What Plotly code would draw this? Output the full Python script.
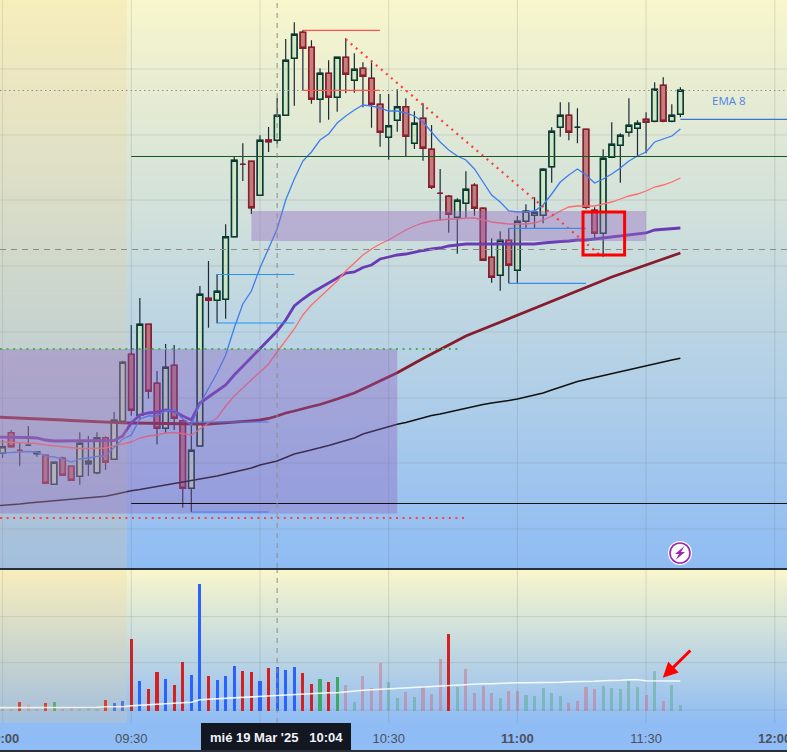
import pandas as pd
import plotly.graph_objects as go
from plotly.subplots import make_subplots

# 2 minute bars, 19 Mar 2025
bar_times = pd.date_range("2025-03-19 09:00", periods=80, freq="2min").strftime("%Y-%m-%d %H:%M:%S").tolist()
# the moving averages start one bar earlier, off the left edge
line_times = ["2025-03-19 08:58:00"] + bar_times

opens = [114.7, 135.3, 117.7, 122.7, 114.3, 112.7, 83.7, 109.7, 101.7, 91.7,
         104.3, 95.3, 130.3, 108.7, 146.7, 213.7, 152.7, 243.7, 184.7, 139.7,
         202.7, 147.3, 79.7, 122.0, 269.7, 267.7, 268.7, 331.3, 403.7, 406.7,
         372.7, 428.0, 427.7, 452.7, 509.7, 535.7, 520.7, 468.7, 494.7, 470.7,
         510.7, 487.7, 499.7, 489.7, 463.7, 430.7, 447.7, 461.3, 424.7, 449.7,
         418.7, 374.7, 371.7, 350.7, 364.7, 382.7, 359.7, 310.7, 292.7, 327.7,
         297.7, 346.7, 352.7, 352.7, 401.3, 440.7, 452.7, 440.7, 438.7, 357.7,
         334.7, 410.7, 422.7, 435.7, 439.7, 448.7, 446.7, 482.7, 446.7, 453.7]
closes = [121.3, 121.3, 117.7, 122.7, 116.3, 84.7, 105.7, 92.7, 87.7, 124.7,
          106.7, 130.3, 105.7, 147.7, 205.7, 157.7, 243.7, 176.7, 139.7, 200.7,
          149.7, 79.7, 117.7, 273.7, 267.7, 276.7, 331.3, 407.7, 403.7, 360.3,
          427.7, 426.3, 452.7, 507.7, 533.7, 519.7, 468.7, 494.7, 470.7, 510.7,
          493.7, 498.7, 491.7, 463.7, 435.7, 442.3, 461.3, 431.7, 444.7, 419.7,
          380.7, 374.7, 353.7, 367.7, 378.7, 359.7, 307.7, 290.7, 327.7, 302.7,
          346.7, 356.7, 355.7, 398.7, 436.7, 452.7, 435.7, 440.7, 360.7, 334.7,
          409.7, 423.7, 432.7, 442.7, 444.7, 445.7, 478.7, 446.7, 452.7, 477.7]
highs = [128.0, 138.0, 125.0, 142.0, 116.3, 112.7, 105.7, 111.3, 101.7, 135.7,
         132.0, 135.7, 131.7, 156.0, 207.3, 243.0, 270.0, 243.7, 197.0, 224.0,
         223.0, 147.3, 145.3, 282.0, 307.0, 293.7, 343.7, 412.0, 424.7, 406.7,
         432.7, 441.0, 470.0, 529.0, 545.7, 538.0, 527.7, 499.7, 507.7, 510.7,
         529.7, 514.7, 505.7, 505.7, 474.0, 474.0, 478.7, 469.7, 456.7, 464.7,
         443.0, 399.0, 373.0, 369.7, 396.7, 384.7, 360.7, 329.7, 336.7, 339.7,
         352.0, 363.7, 370.7, 399.7, 440.7, 465.7, 465.7, 459.7, 438.7, 360.7,
         418.7, 445.7, 434.7, 469.7, 447.7, 455.7, 485.7, 490.7, 463.7, 480.7]
lows = [110.0, 121.3, 102.3, 122.7, 111.3, 84.7, 83.7, 92.7, 87.7, 83.3,
        92.0, 93.7, 98.0, 108.7, 146.7, 152.3, 148.0, 169.3, 123.7, 135.3,
        138.0, 60.3, 56.0, 122.0, 240.3, 244.7, 249.3, 331.3, 387.0, 354.0,
        372.7, 416.0, 424.3, 452.7, 462.3, 477.7, 464.3, 445.3, 448.3, 456.3,
        474.7, 475.3, 460.7, 440.3, 421.3, 408.3, 436.3, 412.0, 419.0, 407.3,
        379.0, 347.3, 335.3, 314.3, 349.7, 352.3, 307.7, 285.3, 277.3, 284.7,
        284.7, 339.7, 339.7, 344.7, 385.3, 431.3, 427.7, 424.7, 358.7, 329.7,
        311.3, 410.7, 385.3, 431.3, 412.0, 414.7, 445.7, 445.7, 445.7, 450.7]

ema8 = [115, 115, 115.5, 116, 116.5, 116, 112, 111, 109, 106, 109,
        110, 111.5, 112, 121, 129, 133, 149, 152, 152, 157,
        158, 149, 143, 164, 179, 195, 213, 240, 264, 277,
        300, 320, 339, 368, 389, 407, 416, 428, 434, 445,
        452, 458, 463, 462, 460, 457, 457, 455, 452, 446,
        436, 426, 418, 412, 408, 399, 386, 373, 366, 357,
        356, 356, 357, 363, 374, 386, 393, 399, 393, 385,
        389, 394, 400, 407, 412, 416, 426, 429, 432, 439]
ema21 = [126.5, 126, 125.5, 125, 125, 124.5, 123, 122, 121, 120, 119.5,
         119.5, 120, 120, 122, 124, 126, 130, 132, 133, 135,
         135.5, 134, 133, 139, 145, 150, 162, 172, 180, 189,
         197, 204, 216, 227, 239, 253, 263, 271, 279, 287,
         297, 305, 313, 319, 324, 328, 333, 338, 342, 345,
         347, 348, 349, 349, 350, 350, 348, 346, 345, 344,
         344, 344, 345, 348, 352, 357, 361, 362, 362, 362,
         364, 366, 369, 372, 374, 377, 381, 383, 386, 390]
vwap = [131, 131, 131, 131, 130.5, 130, 128, 127, 127, 127, 127,
        127, 127, 127, 127.5, 132, 145, 153, 155, 156, 158,
        157, 152, 148, 165, 171, 177, 183, 193, 202, 211,
        219, 228, 237, 248, 262, 269, 275, 280, 285, 290,
        295, 296, 300.5, 303, 309, 311, 313, 314, 316, 317.5,
        319, 320, 322, 323, 324, 324, 324, 324, 324, 324,
        324, 324, 324, 325, 326, 326.5, 327, 328, 328, 329,
        330, 331, 332, 333, 334, 335, 338, 338.5, 339, 340]
ma100 = [151, 150.7, 150.4, 150, 149.7, 149.3, 149, 148.5, 148, 147.5, 147,
         146.7, 146.3, 145.8, 145.5, 145.2, 145, 144.8, 144.7, 144.6, 144.5,
         144.4, 144.2, 144, 144, 144, 144.5, 145, 145.5, 146, 147.2,
         148, 149.5, 152, 155, 157, 159.5, 161.5, 163.5, 166, 169,
         172, 175, 179, 183, 186.5, 191, 195.3, 200, 205, 209.5,
         214, 218.5, 223, 227, 232, 235.5, 239, 242.5, 246, 249.5,
         253, 256.5, 260, 263.5, 267, 270.3, 273.5, 277, 280.5, 284,
         287.5, 291, 294, 297, 300, 303, 306, 309, 312, 315]
ma200 = [62, 62.5, 63.3, 64, 65, 65.8, 66.6, 67.4, 68, 69, 69.7,
         70.5, 71, 71.8, 73.5, 75.5, 77.3, 78.5, 80, 81.5, 83,
         84, 85.5, 87, 88.5, 90.5, 92, 94, 96, 98, 100,
         103, 105, 107, 110.5, 114, 116, 118, 120, 122.5, 125,
         127.5, 130, 134, 136.5, 139, 141.5, 143.7, 145.5, 148, 150.5,
         152.5, 154, 156, 157.5, 159.5, 161.5, 163.5, 165, 166, 167.5,
         169, 171, 173, 175, 178, 181, 183.5, 186.5, 188.5, 190.5,
         192.5, 194.5, 196, 198, 200, 202, 204, 206, 208, 209.7]

volume = [1.7, 2, 8.7, 5.7, 1.7, 7.7, 8.7, 2, 3, 1.5,
          2.5, 2, 10.7, 7.7, 9.7, 71.7, 29.7, 21.7, 38.7, 31.7,
          25.7, 48.7, 35.7, 126.7, 34.7, 30.7, 34.7, 44.7, 39.7, 38.7,
          29.7, 42.7, 43.7, 40.7, 43.7, 37.7, 26.7, 31.7, 28.7, 33.7,
          25.7, 8.7, 34.7, 22.7, 47.7, 28.7, 12.7, 18.7, 13.7, 24.7,
          16.7, 51.7, 76.7, 23.7, 41.7, 17.7, 24.7, 17.7, 12.7, 19.7,
          19.7, 15.7, 14.7, 22.7, 17.7, 14.7, 7.7, 9.7, 23.7, 21.7,
          24.7, 22.7, 21.7, 29.7, 23.7, 15.7, 39.7, 9.7, 25.7, 5.7]
volume_kinds = list("lprplrgppl" "llrbbrbrrb" "rrbbrbbbrr" "brbbbrrgrg"
                    "plpppllplp" "pprlpppplp" "plllllpppp" "lllllplpll")
volume_avg = [3, 3, 3, 3, 3, 3, 3, 3.5, 3.5, 3.5, 3.5,
              3.5, 3.5, 4, 4, 4, 5, 5.5, 6, 6.5, 7,
              7.5, 8, 8.5, 11, 11.5, 12, 12.5, 13, 13.5, 14,
              14, 14.5, 15, 15.5, 16, 16.5, 17, 17.5, 18, 18,
              19, 20, 20.5, 21, 21.5, 22, 22.5, 23, 23.5, 24,
              24.5, 25, 25.5, 26, 26.5, 26.5, 27, 27, 27.5, 27.5,
              28, 28, 28, 28.5, 28.5, 28.5, 29, 29, 29.5, 29.5,
              30, 30, 30.5, 31, 31, 30, 30, 30, 30, 29.7]

volume_colors = {"r": "#d32020", "b": "#2962ff", "g": "#3fa863",
                 "p": "rgba(200,120,140,0.55)", "l": "rgba(90,170,140,0.5)"}

VIEW_START = "2025-03-19 08:59:24"
VIEW_END = "2025-03-19 12:02:51"

grid_times = ["2025-03-19 09:00", "2025-03-19 09:30", "2025-03-19 10:00", "2025-03-19 10:30",
              "2025-03-19 11:00", "2025-03-19 11:30", "2025-03-19 12:00"]
tick_labels = ["", "09:30", "", "10:30", "<b>11:00</b>", "11:30", ""]
edge_labels = {"2025-03-19 09:00": "<b>09:00</b>", "2025-03-19 12:00": "<b>12:00</b>"}
price_grid = [499, 433, 368, 302, 236, 170, 105, 39]
volume_grid = [94, 48, 0.7]

CROSSHAIR = "2025-03-19 10:04"


def day(hhmm):
    return "2025-03-19 " + hhmm


fig = make_subplots(rows=2, cols=1, shared_xaxes=True)

# gradient background of both panes
fade = [[0, "#8fbcf4"], [1, "#f8f6cc"]]
for row, y0, y1 in [(1, 0, 568), (2, -12.3, 140.7)]:
    fig.add_trace(go.Heatmap(x=[VIEW_START, VIEW_END], y=[y0, y1], z=[[0, 0], [1, 1]], zmin=0, zmax=1,
                             zsmooth="best", colorscale=fade, showscale=False, hoverinfo="skip"),
                  row=row, col=1)

# grid has to sit above the heatmap
grid_color = "rgba(110,110,110,0.2)"
for row, levels, y0, y1 in [(1, price_grid, 0, 568), (2, volume_grid, -12.3, 140.7)]:
    xs, ys = [], []
    for t in grid_times:
        xs += [t, t, None]
        ys += [y0, y1, None]
    for lv in levels:
        xs += [VIEW_START, VIEW_END, None]
        ys += [lv, lv, None]
    fig.add_trace(go.Scatter(x=xs, y=ys, mode="lines", line=dict(color=grid_color, width=1), hoverinfo="skip"),
                  row=row, col=1)

# wicks first, then the bodies over them
fig.add_trace(go.Candlestick(
    x=bar_times, open=opens, high=highs, low=lows, close=closes,
    increasing=dict(line=dict(color="#1c2a36", width=1.2), fillcolor="rgba(0,0,0,0)"),
    decreasing=dict(line=dict(color="#1c2a36", width=1.2), fillcolor="rgba(0,0,0,0)"),
    hoverinfo="skip"), row=1, col=1)
fig.add_trace(go.Candlestick(
    x=bar_times, open=opens, close=closes,
    high=[max(o, c) for o, c in zip(opens, closes)],
    low=[min(o, c) for o, c in zip(opens, closes)],
    increasing=dict(line=dict(color="#06392f", width=1.5), fillcolor="rgba(205,230,195,0.8)"),
    decreasing=dict(line=dict(color="#8c1c2c", width=1.5), fillcolor="rgba(178,60,70,0.62)"),
    hoverinfo="skip"), row=1, col=1)

fig.add_trace(go.Scatter(x=line_times, y=ma200, mode="lines", line=dict(color="#111111", width=1.5)), row=1, col=1)
fig.add_trace(go.Scatter(x=line_times, y=ma100, mode="lines", line=dict(color="#861c2e", width=2.8)), row=1, col=1)
fig.add_trace(go.Scatter(x=line_times, y=vwap, mode="lines", line=dict(color="#6a3cb4", width=2.8)), row=1, col=1)
fig.add_trace(go.Scatter(x=line_times, y=ema21, mode="lines", line=dict(color="#ff6b6b", width=1.3)), row=1, col=1)
fig.add_trace(go.Scatter(x=line_times, y=ema8, mode="lines", line=dict(color="#3f7df0", width=1.3)), row=1, col=1)

fig.add_trace(go.Bar(x=bar_times, y=volume, width=43400, marker_line_width=0,
                     marker_color=[volume_colors[k] for k in volume_kinds], hoverinfo="skip"), row=2, col=1)
fig.add_trace(go.Scatter(x=line_times, y=volume_avg, mode="lines",
                         line=dict(color="rgba(255,255,255,0.9)", width=1.6)), row=2, col=1)

DOTS = "2px,4.6px"
shapes = []


def seg(t0, p0, t1, p1, color, width=1, dash="solid", yref="y"):
    shapes.append(dict(type="line", xref="x", yref=yref, x0=t0, x1=t1, y0=p0, y1=p1,
                       line=dict(color=color, width=width, dash=dash)))


def box(t0, t1, p0, p1, fill, yref="y", line=None):
    shapes.append(dict(type="rect", xref="x", yref=yref, x0=t0, x1=t1, y0=p0, y1=p1,
                       fillcolor=fill, line=line or dict(width=0)))


# session shading and zones
box(VIEW_START, day("09:29"), 0, 568, "rgba(245,205,130,0.2)")
box(VIEW_START, day("09:29"), -12.3, 140.7, "rgba(245,205,130,0.2)", yref="y2")
box(VIEW_START, day("10:32"), 54.5, 219, "rgba(140,95,190,0.37)")
box(day("09:58"), day("11:30"), 327, 357, "rgba(150,105,195,0.4)")

# levels
seg(VIEW_START, 477.5, VIEW_END, 477.5, "#8d8d9a", 1.2, "1.5px,3px")
seg(VIEW_START, 318.5, VIEW_END, 318.5, "#8c8c8c", 1, "6px,5px")
seg(day("09:30"), 411.5, VIEW_END, 411.5, "#0f5a1e", 1.2)
seg(day("09:30"), 64.5, VIEW_END, 64.5, "#111111", 1.2)
seg(VIEW_START, 219, day("10:47"), 219, "#4caf50", 2, DOTS)
seg(VIEW_START, 50, day("10:48"), 50, "#ff4040", 2, DOTS)
seg(day("10:20"), 528.7, "2025-03-19 11:19:42", 311.3, "#ff3b3b", 2.2, DOTS)

# red and blue range markers
seg(day("10:10"), 537.7, day("10:28"), 537.7, "#ff5252", 1.2)
seg(day("10:10"), 477.7, day("10:28"), 477.7, "#ff5252", 1.2)
seg(day("09:50"), 293.5, day("10:08"), 293.5, "#2196f3", 1.2)
seg(day("09:50"), 245, day("10:08"), 245, "#2196f3", 1.2)
seg(day("09:44"), 146, day("10:02"), 146, "#3f7df0", 1.2)
seg(day("09:44"), 56, day("10:02"), 56, "#3f7df0", 1.2)
seg(day("10:58"), 339.7, day("11:16"), 339.7, "#3f8ae8", 1.2)
seg(day("10:58"), 284.7, day("11:16"), 284.7, "#3f8ae8", 1.2)
seg(day("11:38"), 448.7, VIEW_END, 448.7, "#3f6fd8", 1.2)

# crosshair
seg(CROSSHAIR, 0, CROSSHAIR, 568, "#8c8c8c", 1, "5px,5px")
seg(CROSSHAIR, -12.3, CROSSHAIR, 140.7, "#8c8c8c", 1, "5px,5px", yref="y2")

# red highlight box
box("2025-03-19 11:15:18", day("11:25"), 313, 356, "rgba(0,0,0,0)", line=dict(color="#ff0000", width=3))


def px_x(x):
    return x / 787


def px_y(y):
    return (752 - y) / 752


# pane separator, bottom edge, crosshair date tag
shapes.append(dict(type="rect", xref="paper", yref="paper", x0=0, x1=1, y0=px_y(570), y1=px_y(568),
                   fillcolor="#2a2e39", line=dict(width=0)))
shapes.append(dict(type="rect", xref="paper", yref="paper", x0=0, x1=1, y0=0, y1=px_y(750),
                   fillcolor="#2a2e39", line=dict(width=0)))
shapes.append(dict(type="rect", xref="paper", yref="paper", x0=px_x(201), x1=px_x(351), y0=px_y(750), y1=px_y(723),
                   fillcolor="#131722", line=dict(width=0)))
# lightning badge
shapes.append(dict(type="circle", xref="paper", yref="paper", x0=px_x(668), x1=px_x(692),
                   y0=px_y(565), y1=px_y(541), fillcolor="#ffffff", line=dict(width=0)))
shapes.append(dict(type="circle", xref="paper", yref="paper", x0=px_x(670), x1=px_x(690),
                   y0=px_y(563), y1=px_y(543), fillcolor="#ffffff", line=dict(color="#9c27b0", width=1.6)))
bolt = [(684.5, 546), (675, 554), (679, 554), (675.5, 560), (685, 552), (681, 552)]
bolt_path = "M" + " L".join(f"{px_x(x):.5f},{px_y(y):.5f}" for x, y in bolt) + " Z"
shapes.append(dict(type="path", xref="paper", yref="paper", path=bolt_path, fillcolor="#9c27b0", line=dict(width=0)))

annotations = [
    dict(text="EMA 8", xref="paper", yref="paper", x=px_x(729), y=px_y(100), showarrow=False,
         xanchor="center", yanchor="middle", font=dict(family="Open Sans", size=11.5, color="#4f83ea")),
    dict(text="mié 19 Mar '25   10:04", xref="paper", yref="paper", x=px_x(276), y=px_y(737),
         showarrow=False, xanchor="center", yanchor="middle",
         font=dict(family="Liberation Sans", size=13, color="#f0f3fa", weight=600)),
    dict(text="", x="2025-03-19 11:33:54", y=33, xref="x2", yref="y2",
         ax="2025-03-19 11:40:40", ay=61.7, axref="x2", ayref="y2",
         showarrow=True, arrowhead=2, arrowsize=1, arrowwidth=3, arrowcolor="#ff0000"),
]
# these two labels run off the page, the tick labels would resize the plot
for t, label in edge_labels.items():
    annotations.append(dict(text=label, x=t, xref="x2", y=px_y(738), yref="paper", showarrow=False,
                            xanchor="center", yanchor="middle",
                            font=dict(family="Liberation Sans", size=13, color="#4a5160")))

fig.update_layout(
    width=787, height=752,
    margin=dict(l=0, r=0, t=0, b=0),
    paper_bgcolor="#90bcf5", plot_bgcolor="#90bcf5",
    showlegend=False,
    bargap=0,
    boxgap=0.2,
    boxgroupgap=0.2,
    shapes=shapes,
    annotations=annotations,
    xaxis=dict(range=[VIEW_START, VIEW_END], rangeslider=dict(visible=False), showgrid=False,
               showticklabels=False, ticks=""),
    xaxis2=dict(range=[VIEW_START, VIEW_END], rangeslider=dict(visible=False), showgrid=False,
                tickmode="array", tickvals=grid_times, ticktext=tick_labels,
                ticks="outside", ticklen=3, tickcolor="rgba(0,0,0,0)",
                tickfont=dict(family="Liberation Sans", size=13, color="#4a5160")),
    yaxis=dict(domain=[184 / 752, 1], range=[0, 568], showgrid=False, zeroline=False, showticklabels=False),
    yaxis2=dict(domain=[29 / 752, 182 / 752], range=[-12.3, 140.7], showgrid=False, zeroline=False,
                showticklabels=False),
)

fig.write_html("out.html", config=dict(displayModeBar=False),
               post_script="document.body.style.margin='0';document.body.style.overflow='hidden';")
